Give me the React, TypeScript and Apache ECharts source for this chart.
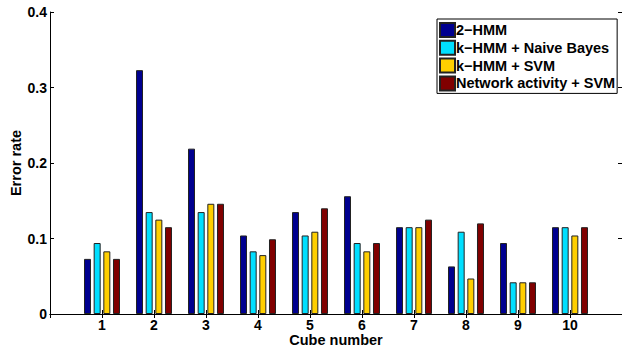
import React, { useEffect, useRef } from "react";
import * as echarts from "echarts";

const categories = ["1", "2", "3", "4", "5", "6", "7", "8", "9", "10"];
const seriesNames = ["2\u2212HMM", "k\u2212HMM + Naive Bayes", "k\u2212HMM + SVM", "Network activity + SVM"];
const hmm2 = [0.073, 0.323, 0.219, 0.104, 0.135, 0.156, 0.115, 0.063, 0.094, 0.115];
const khmmNB = [0.094, 0.135, 0.135, 0.083, 0.104, 0.094, 0.115, 0.109, 0.042, 0.115];
const khmmSVM = [0.083, 0.125, 0.146, 0.078, 0.109, 0.083, 0.115, 0.047, 0.042, 0.104];
const netSVM = [0.073, 0.115, 0.146, 0.099, 0.140, 0.094, 0.125, 0.120, 0.042, 0.115];
const colors = ["#00008F", "#00DFFF", "#FFCF00", "#800000"];
const yTicks = [0, 0.1, 0.2, 0.3, 0.4];

const FONT = "'Liberation Sans', Arial, Helvetica, sans-serif";

export default function App() {
  const ref = useRef<HTMLDivElement>(null);
  useEffect(() => {
    if (!ref.current) return;
    const chart = echarts.init(ref.current, undefined, { renderer: "svg" });
    const padCats = ["", ...categories, ""];
    const allSeries = [hmm2, khmmNB, khmmSVM, netSVM];
    const axisLine = { show: true, lineStyle: { color: "#000", width: 1 } };
    const axisTick = { show: true, inside: true, length: 4, lineStyle: { color: "#000", width: 1 } };
    const labelStyle = { color: "#000", fontSize: 14, fontWeight: "bold" as const, fontFamily: FONT };
    chart.setOption({
      animation: false,
      backgroundColor: "#fff",
      grid: { left: 50, top: 12, width: 572, height: 302, outerBoundsMode: "none", containLabel: false },
      legend: {
        orient: "vertical",
        left: 437,
        top: 19,
        itemWidth: 15,
        itemHeight: 14,
        itemGap: 1.8,
        icon: "rect",
        backgroundColor: "#fff",
        borderColor: "#000",
        borderWidth: 1,
        borderRadius: 0,
        padding: [3, 2, 2, 2],
        textStyle: { ...labelStyle, fontSize: 14.5, lineHeight: 15, padding: [0, 0, 0, -4] },
        data: seriesNames,
      },
      xAxis: [
        {
          type: "category",
          data: padCats,
          boundaryGap: false,
          axisLine,
          axisTick: { ...axisTick, alignWithLabel: true },
          axisLabel: { ...labelStyle, margin: 4, interval: 0 },
          splitLine: { show: false },
          name: "Cube number",
          nameLocation: "middle",
          nameGap: 18,
          nameMoveOverlap: false,
          nameTextStyle: { ...labelStyle, fontSize: 14.5 },
        },
        {
          type: "category",
          data: padCats,
          boundaryGap: false,
          position: "top",
          axisLine,
          axisTick,
          axisLabel: { show: false },
          splitLine: { show: false },
        },
      ],
      yAxis: [
        {
          type: "value",
          min: yTicks[0],
          max: yTicks[yTicks.length - 1],
          interval: 0.1,
          axisLine,
          axisTick,
          axisLabel: {
            ...labelStyle,
            margin: 3,
            formatter: (v: number) => (v === 0 ? "0" : v.toFixed(1)),
          },
          splitLine: { show: false },
          name: "Error rate",
          nameLocation: "middle",
          nameGap: 27,
          nameMoveOverlap: false,
          nameTextStyle: { ...labelStyle, fontSize: 14.5 },
        },
        {
          type: "value",
          min: yTicks[0],
          max: yTicks[yTicks.length - 1],
          interval: 0.1,
          position: "right",
          axisLine,
          axisTick,
          axisLabel: { show: false },
          splitLine: { show: false },
        },
      ],
      series: allSeries.map((vals, i) => ({
        name: seriesNames[i],
        type: "bar",
        xAxisIndex: 0,
        yAxisIndex: 0,
        barWidth: 7,
        barGap: "38%",
        data: [null, ...vals, null],
        itemStyle: { color: colors[i], borderColor: "#222", borderWidth: 1 },
      })),
    });
    return () => chart.dispose();
  }, []);
  return <div ref={ref} style={{ position: "fixed", left: 0, top: 0, width: 622, height: 350 }} />;
}
